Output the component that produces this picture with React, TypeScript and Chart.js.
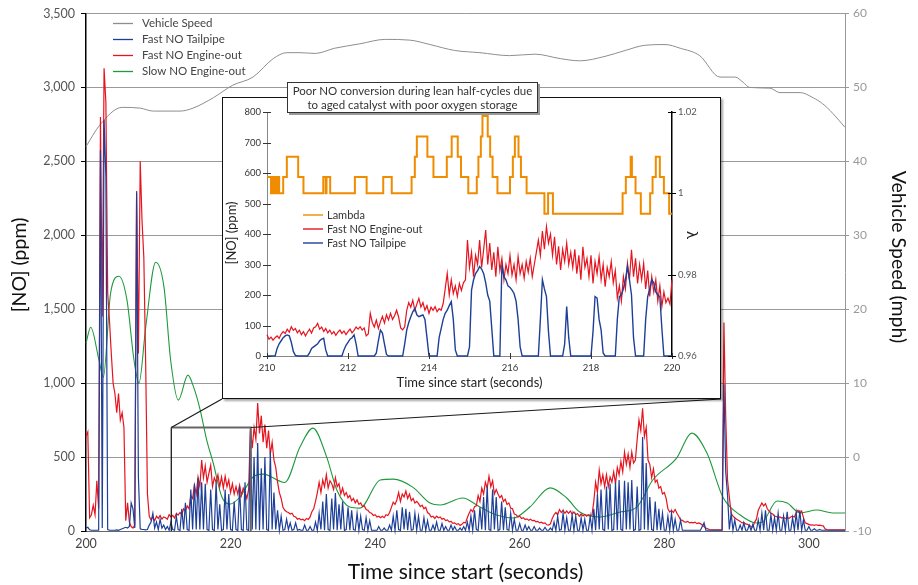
import React, { useEffect, useRef } from 'react';
import { Chart, registerables } from 'chart.js';

Chart.register(...registerables);

const FONT = 'Lato, "Open Sans", "DejaVu Sans", sans-serif';
const C_SPEED = '#8e8e8e';
const C_TAIL = '#1d3f98';
const C_ENGINE = '#e6141f';
const C_SLOW = '#1e9a3c';
const C_LAMBDA = '#f08c00';

// ---------------- main chart ----------------
const MAIN_X_MIN = 200;
const MAIN_X_MAX = 305;
const MAIN_T0 = 200;
const MAIN_DT = 0.25;

// Fast NO Engine-out (ppm), one value every 0.25 s from 200 s
const FAST_ENGINE_MAIN = [
  640, 670, 90, 110, 175, 110, 340, 150, 2800, 1450, 3130, 2900, 1610, 1420, 1200, 1000,
  930, 800, 930, 750, 800, 700, 70, 190, 60, 30, 20, 40, 2300, 1200, 2500, 2100,
  1850, 1150, 250, 100, 75, 95, 70, 100, 85, 105, 80, 95, 90, 80, 110, 95,
  105, 88, 118, 108, 125, 110, 150, 135, 170, 150, 240, 220, 310, 250, 365, 300,
  480, 360, 440, 330, 390, 445, 300, 360, 330, 380, 300, 365, 290, 370, 300, 345,
  260, 320, 250, 300, 250, 310, 240, 290, 260, 220, 280, 700, 560, 700, 620, 865,
  660, 780, 600, 720, 560, 680, 520, 600, 480, 430, 330, 260, 220, 160, 140, 130,
  125, 115, 120, 100, 95, 80, 85, 75, 80, 70, 85, 78, 95, 130, 150, 200,
  257, 330, 260, 345, 300, 380, 290, 340, 320, 280, 360, 300, 320, 250, 290, 240,
  260, 225, 240, 205, 220, 190, 210, 180, 190, 165, 170, 145, 140, 125, 120, 105,
  110, 95, 100, 90, 100, 90, 110, 105, 125, 160, 195, 180, 210, 260, 200, 250,
  230, 270, 220, 250, 205, 220, 190, 200, 185, 165, 175, 150, 160, 125, 115, 95,
  100, 85, 100, 90, 95, 80, 85, 70, 75, 62, 65, 52, 55, 45, 50, 38,
  45, 58, 55, 90, 120, 145, 130, 165, 170, 240, 200, 290, 250, 330, 290, 370,
  300, 340, 250, 280, 250, 225, 240, 200, 215, 180, 190, 155, 150, 115, 110, 95,
  100, 85, 90, 78, 82, 72, 80, 70, 72, 62, 65, 55, 60, 52, 55, 42,
  40, 48, 85, 110, 125, 110, 145, 125, 140, 120, 135, 120, 135, 115, 128, 110,
  118, 100, 115, 102, 112, 100, 110, 105, 108, 200, 330, 260, 412, 320, 380, 300,
  380, 300, 365, 330, 400, 320, 430, 380, 470, 400, 534, 450, 520, 430, 534, 460,
  480, 620, 750, 680, 830, 640, 700, 480, 450, 360, 420, 330, 345, 290, 300, 250,
  260, 223, 150, 128, 140, 125, 145, 120, 100, 75, 72, 62, 60, 65, 55, 58,
  55, 60, 50, 55, 50, 40, 30, 20, 15, 10, 7, 7, 7, 7, 7, 7,
  7, 1410, 770, 345, 230, 120, 100, 90, 80, 72, 65, 55, 58, 48, 45, 38,
  30, 27, 60, 80, 140, 165, 190, 170, 185, 150, 135, 120, 115, 100, 98, 90,
  95, 88, 92, 85, 90, 85, 95, 100, 95, 125, 140, 120, 135, 90, 55, 50,
  45, 40, 42, 38, 42, 38, 40, 36, 35, 14, 10, 7, 7, 7, 7, 7,
  7, 7, 7, 7, 7,
];

// Fast NO Tailpipe (ppm), one value every 0.25 s from 200 s
const FAST_TAIL_MAIN = [
  20, 25, 8, 5, 5, 5, 5, 5, 2575, 20, 2780, 2400, 10, 5, 5, 5,
  5, 8, 5, 10, 15, 20, 25, 20, 30, 190, 150, 20, 2290, 365, 15, 10,
  10, 8, 10, 40, 60, 120, 20, 60, 10, 80, 20, 40, 10, 30, 5, 60,
  10, 5, 100, 10, 5, 150, 10, 190, 10, 5, 280, 10, 320, 10, 360, 10,
  330, 10, 320, 10, 5, 280, 10, 5, 330, 10, 180, 5, 10, 280, 10, 250,
  10, 5, 200, 10, 5, 300, 10, 5, 330, 10, 5, 680, 10, 500, 10, 595,
  5, 425, 10, 500, 10, 5, 540, 10, 260, 10, 140, 5, 100, 5, 10, 80,
  10, 55, 5, 10, 55, 5, 10, 5, 5, 40, 5, 5, 30, 5, 5, 60,
  5, 120, 10, 200, 5, 250, 10, 5, 220, 10, 257, 5, 180, 10, 200, 5,
  10, 160, 5, 140, 10, 5, 120, 5, 100, 10, 5, 90, 5, 70, 5, 5,
  5, 5, 30, 5, 5, 20, 5, 5, 40, 5, 100, 5, 140, 10, 5, 160,
  10, 150, 5, 130, 5, 10, 120, 5, 100, 5, 5, 90, 5, 70, 5, 5,
  40, 5, 60, 5, 5, 50, 5, 30, 5, 5, 40, 5, 30, 5, 5, 20,
  5, 30, 5, 60, 5, 100, 5, 140, 10, 5, 160, 10, 230, 5, 300, 10,
  5, 280, 10, 230, 5, 10, 200, 5, 160, 10, 5, 120, 5, 80, 5, 5,
  50, 5, 5, 40, 5, 30, 5, 5, 30, 5, 5, 20, 5, 5, 25, 5,
  5, 20, 5, 60, 5, 100, 5, 10, 120, 5, 90, 5, 5, 110, 5, 100,
  5, 5, 90, 5, 80, 5, 5, 100, 5, 150, 5, 250, 10, 280, 10, 5,
  300, 10, 320, 5, 10, 330, 5, 345, 10, 5, 340, 10, 330, 10, 345, 5,
  10, 300, 5, 10, 635, 10, 460, 5, 230, 10, 5, 200, 5, 150, 5, 120,
  5, 5, 100, 5, 120, 5, 80, 5, 5, 75, 5, 5, 5, 5, 5, 5,
  5, 5, 5, 5, 5, 30, 55, 5, 5, 5, 5, 5, 5, 5, 5, 5,
  5, 990, 400, 243, 10, 120, 5, 75, 5, 5, 40, 5, 55, 5, 5, 40,
  5, 45, 5, 5, 75, 5, 120, 5, 140, 5, 5, 110, 5, 90, 5, 120,
  5, 5, 100, 5, 130, 5, 5, 90, 5, 120, 5, 140, 5, 75, 5, 5,
  30, 5, 5, 15, 5, 5, 10, 5, 5, 5, 5, 5, 5, 5, 5, 5,
  5, 5, 5, 5, 5,
];

const SPEED_T = [200, 201.9, 205.0, 207.5, 209.3, 213.0, 214.8, 217.6, 220.3, 223.1, 225.9, 227.8, 229.6, 231.7,
  234.4, 237.9, 241.4, 244.8, 247.6, 251.0, 254.5, 258.6, 262.1, 265.6, 268.3, 271.8, 274.6, 277.3, 280.1,
  282.2, 284.9, 287.7, 289.8, 290.9, 291.8, 294.6, 296.0, 298.8, 300.6, 301.9, 303.3, 305];
const SPEED_MPH = [42.0, 44.9, 47.3, 47.2, 46.8, 46.8, 47.2, 48.6, 50.3, 51.4, 53.9, 54.7, 54.7, 54.6,
  55.3, 55.9, 56.5, 56.4, 55.8, 55.0, 54.7, 54.3, 54.5, 53.9, 53.6, 54.2, 55.0, 55.7, 55.8,
  55.3, 54.3, 51.4, 51.4, 50.7, 50.0, 49.9, 49.3, 49.3, 48.6, 47.8, 46.5, 44.6];

const SLOW_T = [200, 200.65, 201.8, 202.4, 203.4, 204.56, 205.67, 206.64, 207.33, 208.26, 209.64, 210.79, 211.71,
  212.77, 214.1, 214.94, 215.8, 216.7, 217.6, 218.8, 219.9, 221.3, 223.1, 224.5, 227.5, 229.6, 231.4, 233.3,
  234.7, 236.5, 237.9, 240.7, 242.5, 245.2, 247.6, 249.0, 252.1, 254.5, 256.8, 259.1, 261.4, 264.2, 266.5,
  268.3, 271.1, 273.9, 276.2, 278.4, 281.7, 283.8, 285.9, 288.1, 290.5, 292.8, 293.6, 295.6, 297.0, 298.8,
  301.1, 303.3, 305];
const SLOW_NO = [1270, 1378, 1155, 1040, 1608, 1723, 1561, 1155, 1000, 1378, 1818, 1649, 1155,
  885, 1054, 966, 818, 615, 460, 230, 182, 230, 365, 385, 328, 568, 696, 500,
  277, 162, 155, 345, 351, 297, 189, 176, 223, 162, 108, 88, 162, 292, 223,
  128, 95, 128, 162, 345, 493, 662, 527, 230, 108, 54, 61, 203, 189, 122,
  142, 122, 122];

const MAIN_LEGEND = ['Vehicle Speed', 'Fast NO Tailpipe', 'Fast NO Engine-out', 'Slow NO Engine-out'];
const MAIN_X_TITLE = 'Time since start (seconds)';
const MAIN_Y_TITLE = '[NO] (ppm)';
const MAIN_Y1_TITLE = 'Vehicle Speed (mph)';
const ZOOM_T0 = 211.8;
const ZOOM_T1 = 222.8;
const ZOOM_NO = 700;

// ---------------- inset chart ----------------
const INSET_T0 = 210;
const INSET_DT = 0.05;

const FAST_ENGINE_INSET = [
  70, 55, 62, 52, 60, 66, 58, 72, 80, 74, 88, 78, 96, 84, 90, 76, 85, 70, 80, 66,
  78, 88, 75, 92, 96, 107, 88, 95, 80, 90, 76, 85, 72, 80, 68, 78, 85, 74, 82, 70,
  80, 88, 76, 84, 95, 88, 96, 85, 92, 66, 72, 140, 110, 95, 118, 90, 112, 130, 108, 135,
  118, 140, 120, 132, 150, 128, 92, 86, 96, 150, 175, 160, 183, 150, 170, 189, 160, 175, 150, 165,
  140, 160, 150, 162, 145, 155, 150, 172, 220, 271, 200, 250, 205, 230, 195, 238, 215, 240, 250, 380,
  290, 340, 260, 330, 300, 380, 290, 350, 413, 300, 370, 282, 340, 260, 358, 280, 320, 250, 300, 270,
  330, 265, 300, 250, 326, 270, 300, 255, 310, 275, 320, 260, 300, 340, 380, 330, 410, 350, 424, 370,
  400, 330, 391, 300, 360, 282, 350, 310, 370, 300, 340, 290, 350, 270, 330, 250, 358, 290, 320, 260,
  330, 238, 310, 270, 326, 250, 300, 227, 290, 260, 310, 240, 280, 190, 230, 180, 260, 220, 304, 250,
  348, 260, 320, 238, 300, 250, 304, 220, 280, 195, 260, 210, 250, 180, 230, 162, 210, 175, 190, 170,
  250,
];

const FAST_TAIL_INSET = [
  0, 0, 0, 0, 0, 25, 40, 50, 60, 66, 69, 66, 45, 15, 2, 0, 0, 0, 0, 0,
  0, 10, 25, 30, 35, 40, 50, 55, 58, 20, 0, 0, 0, 0, 0, 0, 0, 0, 20, 35,
  45, 55, 60, 69, 40, 0, 0, 0, 0, 0, 0, 0, 0, 0, 10, 50, 85, 75, 40, 5,
  0, 0, 0, 0, 0, 0, 0, 0, 40, 85, 110, 129, 145, 156, 135, 129, 132, 135, 120, 60,
  0, 0, 0, 0, 0, 60, 90, 120, 140, 150, 165, 178, 120, 20, 0, 0, 0, 0, 0, 0,
  30, 216, 250, 270, 280, 293, 285, 270, 240, 200, 180, 90, 0, 0, 0, 0, 300, 260, 250, 230,
  225, 216, 205, 180, 120, 30, 0, 0, 0, 0, 0, 0, 0, 0, 0, 120, 250, 220, 195, 80,
  0, 0, 0, 0, 0, 0, 0, 40, 162, 60, 0, 0, 0, 0, 0, 0, 0, 0, 0, 0,
  0, 80, 195, 190, 120, 85, 10, 0, 0, 0, 0, 0, 0, 120, 195, 200, 220, 250, 293, 250,
  200, 60, 0, 0, 0, 0, 0, 120, 195, 220, 250, 240, 210, 200, 195, 90, 0, 0, 0, 0,
  0,
];

// Lambda: each value holds from its time until the next time
const LAMBDA_T = [210.00, 210.10, 210.13, 210.17, 210.20, 210.24, 210.27, 210.30, 210.40, 210.49, 210.77, 210.90,
  211.39, 211.45, 211.47, 211.56, 212.17, 212.46, 212.87, 213.08, 213.57, 213.65, 213.70, 213.96, 214.11,
  214.44, 214.56, 214.71, 214.79, 214.97, 215.18, 215.22, 215.28, 215.32, 215.45, 215.51, 215.57, 215.69,
  216.00, 216.07, 216.12, 216.21, 216.27, 216.41, 216.85, 216.94, 217.06, 218.78, 218.86, 218.98, 219.01,
  219.10, 219.23, 219.46, 219.52, 219.60, 219.70, 219.80, 219.93, 220.00];
const LAMBDA = [1.004, 1.000, 1.004, 1.000, 1.004, 1.000, 1.004, 1.000, 1.004, 1.009, 1.004, 1.000,
  1.004, 1.000, 1.004, 1.000, 1.004, 1.000, 1.004, 1.000, 1.004, 1.009, 1.014, 1.009, 1.004,
  1.009, 1.014, 1.009, 1.004, 1.000, 1.004, 1.009, 1.014, 1.019, 1.014, 1.009, 1.004, 1.000,
  1.004, 1.009, 1.014, 1.009, 1.004, 1.000, 0.995, 1.000, 0.995, 1.000, 1.004, 1.009, 1.004,
  1.000, 0.995, 1.000, 1.004, 1.009, 1.004, 1.000, 0.995, 0.995];

const INSET_LEGEND = ['Lambda', 'Fast NO Engine-out', 'Fast NO Tailpipe'];
const INSET_X_TITLE = 'Time since start (seconds)';
const INSET_Y_TITLE = '[NO] (ppm)';
const INSET_Y1_TITLE = 'λ';
const ANNOTATION = ['Poor NO conversion during lean half-cycles due', 'to aged catalyst with poor oxygen storage'];

// layout (pixels)
const INSET_BOX = { left: 222, top: 97, width: 499, height: 302 };

const evenXY = (t0: number, dt: number, vals: number[]) => vals.map((v, i) => ({ x: t0 + i * dt, y: v }));
const pairXY = (ts: number[], vs: number[]) => ts.map((t, i) => ({ x: t, y: vs[i] }));

const mainDecor = {
  id: 'mainDecor',
  afterDatasetsDraw(chart: any) {
    const { ctx, chartArea: a, scales } = chart;
    const xs = scales.x;
    const ys = scales.y;
    const x0 = xs.getPixelForValue(ZOOM_T0);
    const x1 = xs.getPixelForValue(ZOOM_T1);
    const yt = ys.getPixelForValue(ZOOM_NO);
    const yb = ys.getPixelForValue(0);
    ctx.save();
    ctx.lineWidth = 1.3;
    ctx.strokeStyle = '#1a1a1a';
    ctx.beginPath();
    ctx.moveTo(x0, yb);
    ctx.lineTo(x0, yt);
    ctx.stroke();
    ctx.strokeStyle = '#666';
    ctx.lineWidth = 1.8;
    ctx.beginPath();
    ctx.moveTo(x0, yt);
    ctx.lineTo(x1, yt);
    ctx.lineTo(x1, yb);
    ctx.stroke();
    ctx.strokeStyle = '#1a1a1a';
    ctx.lineWidth = 1.2;
    ctx.beginPath();
    ctx.moveTo(x0, yt);
    ctx.lineTo(INSET_BOX.left, INSET_BOX.top + INSET_BOX.height);
    ctx.moveTo(x1, yt);
    ctx.lineTo(INSET_BOX.left + INSET_BOX.width, INSET_BOX.top + INSET_BOX.height);
    ctx.stroke();

    // legend
    const cols = [C_SPEED, C_TAIL, C_ENGINE, C_SLOW];
    ctx.font = `11.5px ${FONT}`;
    ctx.textBaseline = 'middle';
    ctx.textAlign = 'left';
    MAIN_LEGEND.forEach((label, i) => {
      const y = a.top + 10 + i * 16;
      ctx.strokeStyle = cols[i];
      ctx.lineWidth = 1.3;
      ctx.beginPath();
      ctx.moveTo(a.left + 27, y);
      ctx.lineTo(a.left + 47, y);
      ctx.stroke();
      ctx.fillStyle = '#444';
      ctx.fillText(label, a.left + 56, y);
    });

    // titles
    ctx.fillStyle = '#111';
    ctx.textAlign = 'center';
    ctx.textBaseline = 'middle';
    ctx.font = `21px ${FONT}`;
    ctx.fillText(MAIN_X_TITLE, (a.left + a.right) / 2, 572);
    ctx.font = `19.5px ${FONT}`;
    ctx.save();
    ctx.translate(20, 265);
    ctx.rotate(-Math.PI / 2);
    ctx.fillText(MAIN_Y_TITLE, 0, 0);
    ctx.restore();
    ctx.save();
    ctx.translate(898, 257);
    ctx.rotate(Math.PI / 2);
    ctx.fillText(MAIN_Y1_TITLE, 0, 0);
    ctx.restore();
    ctx.restore();
  },
};

const insetDecor = {
  id: 'insetDecor',
  afterDatasetsDraw(chart: any) {
    const { ctx, chartArea: a, scales } = chart;
    ctx.save();
    ctx.lineWidth = 1;
    ctx.strokeStyle = '#333';
    ctx.beginPath();
    scales.y.ticks.forEach((t: any) => {
      const y = Math.round(scales.y.getPixelForValue(t.value)) + 0.5;
      ctx.moveTo(a.left - 4, y);
      ctx.lineTo(a.left + 4, y);
    });
    scales.x.ticks.forEach((t: any) => {
      const x = Math.round(scales.x.getPixelForValue(t.value)) + 0.5;
      ctx.moveTo(x, a.bottom - 3);
      ctx.lineTo(x, a.bottom + 3);
    });
    ctx.stroke();
    ctx.strokeStyle = '#000';
    ctx.beginPath();
    scales.y1.ticks.forEach((t: any) => {
      const y = Math.round(scales.y1.getPixelForValue(t.value)) + 0.5;
      ctx.moveTo(a.right - 4, y);
      ctx.lineTo(a.right + 4, y);
    });
    ctx.stroke();

    // legend
    const cols = [C_LAMBDA, C_ENGINE, C_TAIL];
    ctx.font = `11px ${FONT}`;
    ctx.textBaseline = 'middle';
    ctx.textAlign = 'left';
    INSET_LEGEND.forEach((label, i) => {
      const y = 117 + i * 14;
      ctx.strokeStyle = cols[i];
      ctx.lineWidth = 1.4;
      ctx.beginPath();
      ctx.moveTo(a.left + 36, y);
      ctx.lineTo(a.left + 56, y);
      ctx.stroke();
      ctx.fillStyle = '#333';
      ctx.fillText(label, a.left + 60, y);
    });

    // titles
    ctx.fillStyle = '#222';
    ctx.font = `13px ${FONT}`;
    ctx.textAlign = 'center';
    ctx.fillText(INSET_X_TITLE, (a.left + a.right) / 2, 285);
    ctx.save();
    ctx.translate(9, 135);
    ctx.rotate(-Math.PI / 2);
    ctx.fillText(INSET_Y_TITLE, 0, 0);
    ctx.restore();
    ctx.save();
    ctx.font = `15px ${FONT}`;
    ctx.translate(469, 137);
    ctx.rotate(Math.PI / 2);
    ctx.fillText(INSET_Y1_TITLE, 0, 0);
    ctx.restore();
    ctx.restore();
  },
};

export default function App() {
  const mainRef = useRef<HTMLCanvasElement | null>(null);
  const insetRef = useRef<HTMLCanvasElement | null>(null);

  useEffect(() => {
    const line = { pointRadius: 0, pointHoverRadius: 0, fill: false, clip: 4 };
    const main = new Chart(mainRef.current as HTMLCanvasElement, {
      type: 'line',
      data: {
        datasets: [
          { ...line, label: MAIN_LEGEND[1], data: evenXY(MAIN_T0, MAIN_DT, FAST_TAIL_MAIN), borderColor: C_TAIL, borderWidth: 1.2, yAxisID: 'y', order: 0 },
          { ...line, label: MAIN_LEGEND[2], data: evenXY(MAIN_T0, MAIN_DT, FAST_ENGINE_MAIN), borderColor: C_ENGINE, borderWidth: 1.2, yAxisID: 'y', order: 1 },
          { ...line, label: MAIN_LEGEND[3], data: pairXY(SLOW_T, SLOW_NO), borderColor: C_SLOW, borderWidth: 1.1, cubicInterpolationMode: 'monotone', yAxisID: 'y', order: 2 },
          { ...line, label: MAIN_LEGEND[0], data: pairXY(SPEED_T, SPEED_MPH), borderColor: C_SPEED, borderWidth: 1, cubicInterpolationMode: 'monotone', yAxisID: 'y1', order: 3 },
        ] as any,
      },
      options: {
        responsive: false,
        animation: false,
        events: [],
        layout: { padding: { top: 13, left: 0, right: 0, bottom: 0 } },
        plugins: { legend: { display: false }, tooltip: { enabled: false } },
        scales: {
          x: {
            type: 'linear', min: MAIN_X_MIN, max: MAIN_X_MAX,
            afterFit: (s: any) => { s.height = 54; },
            grid: { display: false, drawTicks: false },
            border: { display: true, color: '#666', width: 1 },
            ticks: { stepSize: 20, includeBounds: false, padding: 5, maxRotation: 0, color: '#444', font: { family: FONT, size: 12.5 } },
          },
          y: {
            position: 'left', min: 0, max: 3500,
            afterFit: (s: any) => { s.width = 86; },
            grid: { color: '#9a9a9a', lineWidth: 1, tickColor: '#000', tickLength: 5 },
            border: { color: '#000', width: 1.5 },
            ticks: { stepSize: 500, padding: 6, color: '#555', font: { family: FONT, size: 12.5 }, callback: (v: any) => Number(v).toLocaleString('en-US') },
          },
          y1: {
            position: 'right', min: -10, max: 60,
            afterFit: (s: any) => { s.width = 73; },
            grid: { drawOnChartArea: false, color: '#999', tickColor: '#999', tickLength: 4 },
            border: { color: '#999', width: 1 },
            ticks: { stepSize: 10, padding: 4, color: '#999', font: { family: FONT, size: 12 } },
          },
        } as any,
      },
      plugins: [mainDecor],
    } as any);

    const inset = new Chart(insetRef.current as HTMLCanvasElement, {
      type: 'line',
      data: {
        datasets: [
          { ...line, label: INSET_LEGEND[0], data: pairXY(LAMBDA_T, LAMBDA), borderColor: C_LAMBDA, borderWidth: 2, stepped: true, yAxisID: 'y1', order: 0 },
          { ...line, label: INSET_LEGEND[2], data: evenXY(INSET_T0, INSET_DT, FAST_TAIL_INSET), borderColor: C_TAIL, borderWidth: 1.4, yAxisID: 'y', order: 1 },
          { ...line, label: INSET_LEGEND[1], data: evenXY(INSET_T0, INSET_DT, FAST_ENGINE_INSET), borderColor: C_ENGINE, borderWidth: 1.2, yAxisID: 'y', order: 2 },
        ] as any,
      },
      options: {
        responsive: false,
        animation: false,
        events: [],
        layout: { padding: { top: 14, left: 0, right: 0, bottom: 0 } },
        plugins: { legend: { display: false }, tooltip: { enabled: false } },
        scales: {
          x: {
            type: 'linear', min: 210, max: 220,
            afterFit: (s: any) => { s.height = 42; },
            grid: { display: false, drawTicks: false },
            border: { display: true, color: '#888', width: 1 },
            ticks: { stepSize: 2, padding: 6, maxRotation: 0, color: '#333', font: { family: FONT, size: 9.5 } },
          },
          y: {
            position: 'left', min: 0, max: 800,
            afterFit: (s: any) => { s.width = 44; },
            grid: { display: false, drawTicks: false },
            border: { display: true, color: '#888', width: 1 },
            ticks: { stepSize: 100, padding: 6, color: '#333', font: { family: FONT, size: 9.5 } },
          },
          y1: {
            position: 'right', min: 0.96, max: 1.02,
            afterFit: (s: any) => { s.width = 48; },
            grid: { display: false, drawTicks: false },
            border: { display: true, color: '#000', width: 1.5 },
            ticks: { stepSize: 0.02, padding: 6, color: '#555', font: { family: FONT, size: 9.5 }, callback: (v: any) => String(Number(Number(v).toFixed(2))) },
          },
        } as any,
      },
      plugins: [insetDecor],
    } as any);

    return () => {
      main.destroy();
      inset.destroy();
    };
  }, []);

  return (
    <div style={{ position: 'fixed', left: 0, top: 0, width: 918, height: 585, background: '#fff', overflow: 'hidden' }}>
      <canvas ref={mainRef} width={918} height={585} style={{ position: 'absolute', left: 0, top: 0, width: 918, height: 585 }} />
      <div
        style={{
          position: 'absolute', left: INSET_BOX.left, top: INSET_BOX.top, width: INSET_BOX.width, height: INSET_BOX.height,
          boxSizing: 'border-box', border: '1px solid #111', background: '#fff', boxShadow: '2px 2px 2px rgba(0,0,0,0.35)',
        }}
      >
        <canvas ref={insetRef} width={497} height={300} style={{ display: 'block', width: 497, height: 300 }} />
      </div>
      <div
        style={{
          position: 'absolute', left: 287, top: 82, width: 251, height: 31, boxSizing: 'border-box',
          border: '1px solid #333', background: '#fff', boxShadow: '2px 2px 0 #999',
          fontFamily: FONT, fontSize: 11.5, lineHeight: '13.5px', color: '#333', textAlign: 'center', paddingTop: 1,
        }}
      >
        {ANNOTATION.map((s) => (
          <div key={s}>{s}</div>
        ))}
      </div>
    </div>
  );
}
